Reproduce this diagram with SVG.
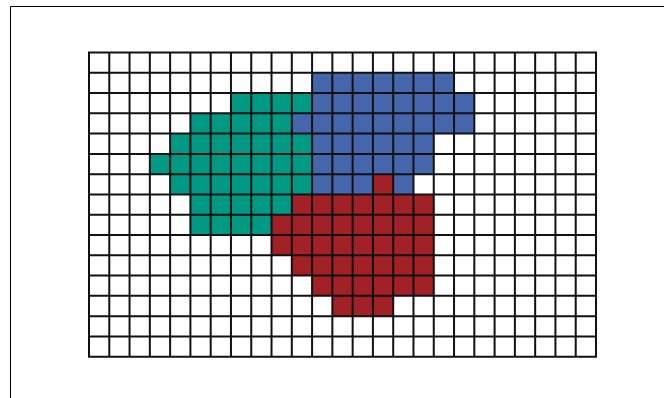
<svg xmlns="http://www.w3.org/2000/svg" width="664" height="398" viewBox="0 0 664 398">
<style>
.t{fill:#009a84}.b{fill:#4565ac}.r{fill:#a12126}
.g{fill:none;stroke:#111;stroke-width:2}
.f{fill:none;stroke:#000;stroke-width:1}
</style>
<rect width="664" height="398" fill="#fff"/>
<path class="f" d="M10.5,398 V6.5 H664"/>
<g id="teal">
<rect class="t" x="230.96" y="93.06" width="81.12" height="20.28"/>
<rect class="t" x="190.4" y="113.34" width="101.4" height="20.28"/>
<rect class="t" x="170.12" y="133.62" width="141.96" height="20.28"/>
<rect class="t" x="149.84" y="153.9" width="162.24" height="20.28"/>
<rect class="t" x="170.12" y="174.18" width="141.96" height="20.28"/>
<rect class="t" x="190.4" y="194.46" width="101.4" height="20.28"/>
<rect class="t" x="190.4" y="214.74" width="81.12" height="20.28"/>
</g>
<g id="blue">
<rect class="b" x="312.08" y="72.78" width="141.96" height="20.28"/>
<rect class="b" x="312.08" y="93.06" width="162.24" height="20.28"/>
<rect class="b" x="291.8" y="113.34" width="182.52" height="20.28"/>
<rect class="b" x="312.08" y="133.62" width="121.68" height="20.28"/>
<rect class="b" x="312.08" y="153.9" width="121.68" height="20.28"/>
<rect class="b" x="312.08" y="174.18" width="60.84" height="20.28"/>
<rect class="b" x="393.2" y="174.18" width="20.28" height="20.28"/>
</g>
<g id="red">
<rect class="r" x="372.92" y="174.18" width="20.28" height="20.28"/>
<rect class="r" x="291.8" y="194.46" width="141.96" height="20.28"/>
<rect class="r" x="271.52" y="214.74" width="162.24" height="20.28"/>
<rect class="r" x="271.52" y="235.02" width="162.24" height="20.28"/>
<rect class="r" x="291.8" y="255.3" width="141.96" height="20.28"/>
<rect class="r" x="312.08" y="275.58" width="121.68" height="20.28"/>
<rect class="r" x="332.36" y="295.86" width="60.84" height="20.28"/>
</g>
<g id="grid">
<path class="g" d="M89,52.5V356.7M109.28,52.5V356.7M129.56,52.5V356.7M149.84,52.5V356.7M170.12,52.5V356.7M190.4,52.5V356.7M210.68,52.5V356.7M230.96,52.5V356.7M251.24,52.5V356.7M271.52,52.5V356.7M291.8,52.5V356.7M312.08,52.5V356.7M332.36,52.5V356.7M352.64,52.5V356.7M372.92,52.5V356.7M393.2,52.5V356.7M413.48,52.5V356.7M433.76,52.5V356.7M454.04,52.5V356.7M474.32,52.5V356.7M494.6,52.5V356.7M514.88,52.5V356.7M535.16,52.5V356.7M555.44,52.5V356.7M575.72,52.5V356.7M596,52.5V356.7"/>
<path class="g" d="M88,52.5H597M88,72.78H597M88,93.06H597M88,113.34H597M88,133.62H597M88,153.9H597M88,174.18H597M88,194.46H597M88,214.74H597M88,235.02H597M88,255.3H597M88,275.58H597M88,295.86H597M88,316.14H597M88,336.42H597M88,356.7H597"/>
</g>
</svg>
